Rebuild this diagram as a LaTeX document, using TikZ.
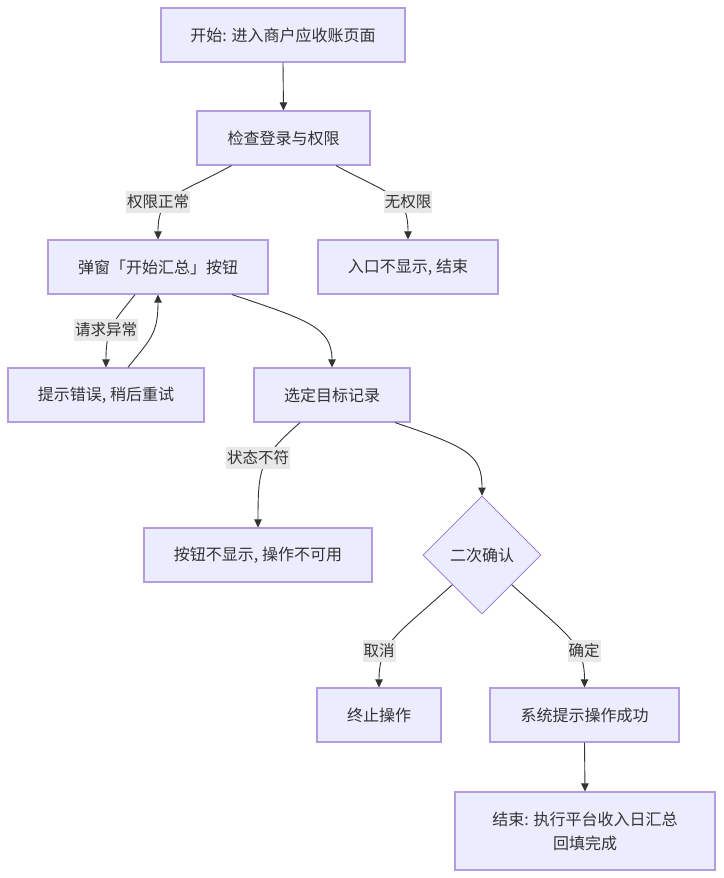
\documentclass[tikz,border=0pt]{standalone}
\usepackage{fontspec}
\setmainfont{Noto Sans CJK SC}
\usetikzlibrary{shapes.geometric,arrows.meta}
\definecolor{nodefill}{HTML}{ECECFF}
\definecolor{nodeline}{HTML}{B39DDE}
\definecolor{diamline}{HTML}{9370DB}
\definecolor{edgecol}{HTML}{333333}
\definecolor{lblbg}{HTML}{E8E8E8}
\tikzset{
  box/.style={draw=nodeline, line width=1.2pt, fill=nodefill, text=edgecol, inner sep=0pt, align=center, font=\fontsize{16}{24}\selectfont},
  decision/.style={diamond, draw=diamline, line width=0.8pt, fill=nodefill, text=edgecol, inner sep=0pt, minimum width=118pt, minimum height=118pt, font=\fontsize{16}{24}\selectfont},
  edge/.style={draw=edgecol, line width=0.9pt, -{Triangle[length=8pt,width=7.5pt]}},
  lbl/.style={fill=lblbg, text=edgecol, inner xsep=1pt, inner ysep=3.5pt, font=\fontsize{15.5}{18}\selectfont}
}
\begin{document}
\begin{tikzpicture}[x=1pt,y=-1pt]
\useasboundingbox[fill=white] (0,0) rectangle (723,878);
\node[box, minimum width=244pt, minimum height=54pt] (A) at (283,35) {开始: 进入商户应收账页面};
\node[box, minimum width=173pt, minimum height=54pt] (B) at (283.5,138) {检查登录与权限};
\node[box, minimum width=220pt, minimum height=54pt] (C) at (158,267) {弹窗「开始汇总」按钮};
\node[box, minimum width=180pt, minimum height=54pt] (D) at (408,267) {入口不显示, 结束};
\node[box, minimum width=196pt, minimum height=54pt] (E) at (106,395) {提示错误, 稍后重试};
\node[box, minimum width=156pt, minimum height=54pt] (F) at (332,395) {选定目标记录};
\node[box, minimum width=228pt, minimum height=54pt] (G) at (258,555) {按钮不显示, 操作不可用};
\node[decision] (H) at (482,555) {二次确认};
\node[box, minimum width=124pt, minimum height=54pt] (I) at (379,715) {终止操作};
\node[box, minimum width=189pt, minimum height=54pt] (J) at (584.5,715) {系统提示操作成功};
\node[box, minimum width=260pt, minimum height=78pt] (K) at (585,831) {结束: 执行平台收入日汇总\\回填完成};

\draw[edge] (A.south) -- (B.north);
\draw[edge] ([xshift=-52pt]B.south) .. controls +(-55,30) and +(0,-45) .. (C.north);
\draw[edge] ([xshift=52.5pt]B.south) .. controls +(55,30) and +(0,-45) .. (D.north);
\draw[edge] ([xshift=-23pt]C.south) .. controls +(-22,28) and +(0,-40) .. (E.north);
\draw[edge] ([xshift=22pt]E.north) .. controls +(22,-28) and +(0,40) .. (C.south);
\draw[edge] ([xshift=74pt]C.south) .. controls +(75,25) and +(0,-40) .. (F.north);
\draw[edge] ([xshift=-32pt]F.south) .. controls +(-40,35) and +(0,-60) .. (G.north);
\draw[edge] ([xshift=63pt]F.south) .. controls +(75,25) and +(0,-40) .. (H.north);
\draw[edge] (H.south west) .. controls +(-55,50) and +(0,-45) .. (I.north);
\draw[edge] (H.south east) .. controls +(55,50) and +(0,-45) .. (J.north);
\draw[edge] (J.south) -- (K.north);

\node[lbl] (l1) at (158,202) {权限正常};
\node[lbl] (l2) at (408,202) {无权限};
\node[lbl] (l3) at (106,330) {请求异常};
\node[lbl] (l4) at (258,458) {状态不符};
\node[lbl] (l5) at (379,651) {取消};
\node[lbl] (l6) at (584,651) {确定};
\end{tikzpicture}
\end{document}
